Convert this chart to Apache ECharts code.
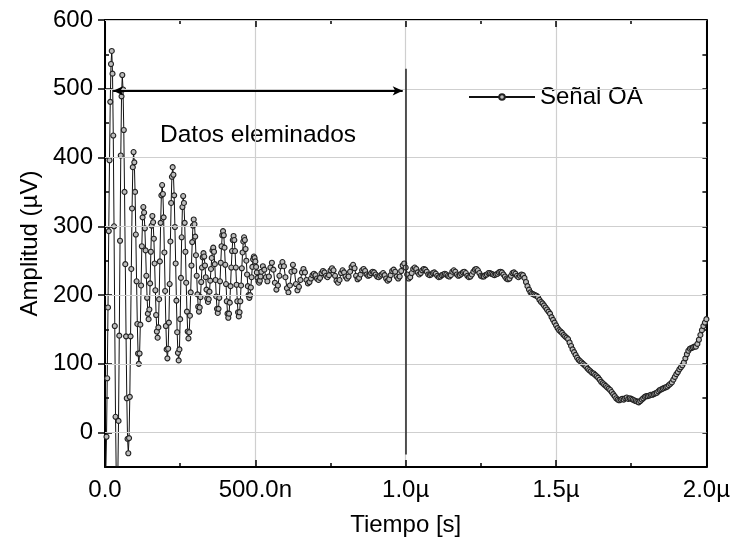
<!DOCTYPE html>
<html><head><meta charset="utf-8">
<script src="https://cdn.jsdelivr.net/npm/echarts@6/dist/echarts.min.js"></script>
<style>html,body{margin:0;padding:0;background:#fff}#c{width:733px;height:547px}</style>
</head><body><div id="c"></div>
<script>
const seriesName = 'Señal OA';
const xAxisName = 'Tiempo [s]';
const yAxisName = 'Amplitud (µV)';
const xTickValues = [0, 500, 1000, 1500, 2000];
const xTickLabels = ['0.0', '500.0n', '1.0µ', '1.5µ', '2.0µ'];
const yTickValues = [0, 100, 200, 300, 400, 500, 600];

// time in ns; segment A sampled every 2.5 ns starting at 0
const segAStart = 0, segAStep = 2.5;
const segAValues = [
  -80,-61,-6,79,182,293,396,481,536,555,
  522,432,300,155,23,-67,-100,
  -69,17,141,279,403,489,520,
  499,440,350,245,140,50,-9,-30,
  -8,52,140,238,326,386,408,
  393,350,288,220,158,115,100,
  115,157,214,271,313,328,
  320,297,265,228,196,173,165,
  179,217,263,301,315,
  306,282,246,207,171,147,138,
  153,194,249,305,345,360,
  347,313,262,206,155,121,108,
  122,160,216,278,334,372,386,
  375,345,299,246,192,146,116,105,
  121,165,225,284,328,344,
  334,305,263,218,176,147,137,
  146,170,204,243,277,301,310,
  303,285,258,228,201,183,176,
  182,197,219,240,255,261,
  256,243,226,208,195,190,
  194,205,221,238,254,265,269,
  263,245,222,198,180,174,
  180,196,220,247,271,287,293,
  287,269,244,216,191,173,167,
  173,189,213,240,264,280,286,
  280,264,240,215,191,175,169,
  175,191,214,239,262,278,284,
  280,267,250,230,213,200,196,
  200,211,226,241,252,256,
  254,249,241,233,225,220,218,
  221,227,234
];
// segment B sampled every 5 ns starting at 525 ns (20 values = 100 ns per row)
const segBStart = 525, segBStep = 5;
const segBValues = [
  242,237,226,220,227,240,247,237,218,208,214,228,242,248,242,226,210,204,214,234,
  244,235,216,207,212,222,233,238,233,222,217,219,224,229,231,229,224,222,225,232,
  235,233,228,226,229,236,239,236,228,221,218,222,232,236,233,227,224,227,234,241,
  244,239,228,223,225,230,236,238,235,230,228,229,232,234,233,230,227,226,228,230,
  232,229,224,221,223,229,235,237,234,227,224,227,235,243,246,240,230,224,226,232,
  238,240,238,233,230,232,236,238,237,234,230,229,230,232,233,231,228,226,227,229,
  230,231,230,228,227,229,234,236,234,230,228,229,231,233,234,232,228,226,227,230,
  234,237,238,236,232,228,227,227,229,230,232,232,231,230,229,230,231,233,234,233,
  230,227,224,223,224,228,232,233,231,228,226,228,230,229,225,219,213,208,204,202,
  201,200,199,197,193,190,188,185,182,179,176,173,168,164,160,156,152,149,147,145,
  142,140,138,136,131,126,121,117,113,109,106,104,102,100,98,96,93,91,89,87,
  86,84,82,80,77,74,72,70,68,66,64,62,59,56,53,50,48,47,48,49,
  48,50,51,49,50,49,48,47,46,45,44,46,48,50,52,53,53,54,55,55,
  56,57,58,60,62,63,64,65,66,67,69,71,73,77,81,85,88,92,95,98,
  102,108,114,119,122,123,124,125,125,129,135,142,149,155,160,165
];

// annotation (data coordinates)
const annotationText = 'Datos eleminados';
const arrowY = 497, arrowFrom = 27, arrowTo = 990;
const cutLineX = 1000, cutLineFrom = -32, cutLineTo = 529;

const signalData = segAValues.map((v, i) => [segAStart + i * segAStep, v])
  .concat(segBValues.map((v, i) => [segBStart + i * segBStep, v]));

const FONT = 'Liberation Sans';
const frameLine = {show: true, onZero: false, lineStyle: {color: '#000', width: 2}};
const tickStyle = {color: '#000', width: 1.5};

const chart = echarts.init(document.getElementById('c'), null, {renderer: 'canvas'});
const option = {
  animation: false,
  backgroundColor: '#fff',
  grid: {left: 105, right: 26, top: 20, bottom: 80, containLabel: false},
  legend: {
    data: [seriesName], left: 463, top: 80, itemWidth: 66, itemHeight: 7,
    textStyle: {fontSize: 24, fontFamily: FONT, color: '#000'},
    selectedMode: false
  },
  xAxis: [
    {type: 'value', min: 0, max: 2000, interval: 500, position: 'bottom',
     axisLine: frameLine,
     axisTick: {show: true, inside: true, length: 7, lineStyle: tickStyle},
     minorTick: {show: true, splitNumber: 2, length: 4, lineStyle: tickStyle},
     axisLabel: {formatter: v => { const i = xTickValues.indexOf(v); return i >= 0 ? xTickLabels[i] : ''; },
       fontSize: 24, fontFamily: FONT, color: '#000', margin: 11},
     splitLine: {show: true, lineStyle: {color: '#cfcfcf', width: 1.2}},
     name: xAxisName, nameLocation: 'middle', nameGap: 46,
     nameTextStyle: {fontSize: 24, fontFamily: FONT, color: '#000'}},
    {type: 'value', min: 0, max: 2000, interval: 500, position: 'top',
     axisLine: frameLine,
     axisTick: {show: true, inside: true, length: 7, lineStyle: tickStyle},
     minorTick: {show: true, splitNumber: 2, length: 4, lineStyle: tickStyle},
     axisLabel: {show: false}, splitLine: {show: false}}
  ],
  yAxis: [
    {type: 'value', min: -50, max: 600, interval: 50, position: 'left',
     axisLine: frameLine,
     axisTick: {show: true, inside: true, length: 4, lineStyle: tickStyle},
     axisLabel: {formatter: v => (yTickValues.indexOf(v) >= 0 ? String(v) : ''),
       fontSize: 24, fontFamily: FONT, color: '#000', margin: 12},
     splitLine: {show: false},
     name: yAxisName, nameLocation: 'middle', nameGap: 58,
     nameTextStyle: {fontSize: 24, fontFamily: FONT, color: '#000'}},
    {type: 'value', min: -50, max: 600, interval: 50, position: 'right',
     axisLine: frameLine,
     axisTick: {show: true, inside: true, length: 4, lineStyle: tickStyle},
     axisLabel: {show: false}, splitLine: {show: false}},
    {type: 'value', min: -50, max: 600, position: 'left',
     axisLine: {show: false},
     axisTick: {show: true, inside: true, length: 7, lineStyle: tickStyle, customValues: yTickValues},
     axisLabel: {show: false, customValues: yTickValues}, splitLine: {show: false}},
    {type: 'value', min: -50, max: 600, position: 'right',
     axisLine: {show: false},
     axisTick: {show: true, inside: true, length: 7, lineStyle: tickStyle, customValues: yTickValues},
     axisLabel: {show: false, customValues: yTickValues}, splitLine: {show: false}}
  ],
  graphic: [{
    type: 'text', left: 160, top: 123, silent: true,
    style: {text: annotationText, font: '24.5px "Liberation Sans"', fill: '#000'}
  }],
  series: [
    {type: 'line', data: [], z: 1, silent: true, xAxisIndex: 0, yAxisIndex: 0,
     markLine: {silent: true, symbol: 'none', animation: false, label: {show: false},
       lineStyle: {color: '#cfcfcf', width: 1.2, type: 'solid'},
       data: yTickValues.map(v => ({yAxis: v}))}},
    {name: seriesName, type: 'line', data: signalData, z: 3, silent: true,
     xAxisIndex: 0, yAxisIndex: 0,
     symbol: 'circle', symbolSize: 5, showSymbol: true, clip: true,
     lineStyle: {color: '#111', width: 1},
     itemStyle: {color: '#bdbdbd', borderColor: '#222', borderWidth: 1.1}},
    {type: 'line', data: [], z: 5, silent: true, xAxisIndex: 0, yAxisIndex: 0,
     markLine: {silent: true, animation: false, label: {show: false},
       lineStyle: {color: '#000', width: 2, type: 'solid'},
       data: [
         [{coord: [arrowFrom, arrowY], symbol: 'arrow', symbolSize: [7, 10]},
          {coord: [arrowTo, arrowY], symbol: 'arrow', symbolSize: [7, 10]}],
         [{coord: [cutLineX, cutLineFrom], symbol: 'none', lineStyle: {color: '#222', width: 1.5}},
          {coord: [cutLineX, cutLineTo], symbol: 'none', lineStyle: {color: '#222', width: 1.5}}]
       ]}}
  ]
};
chart.setOption(option);
</script>
</body></html>
